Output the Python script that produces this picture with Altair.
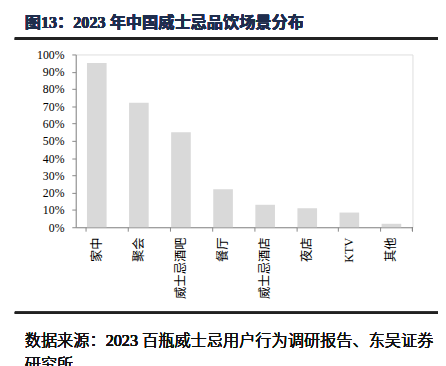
import altair as alt
import pandas as pd

categories = ["家中", "聚会", "威士忌酒吧", "餐厅", "威士忌酒店", "夜店", "KTV", "其他"]
values = [0.95, 0.72, 0.55, 0.22, 0.13, 0.11, 0.085, 0.02]
y_ticks = [i / 10 for i in range(11)]
title_text = "图13：2023 年中国威士忌品饮场景分布"
source_line1 = "数据来源：2023 百瓶威士忌用户行为调研报告、东吴证券"
source_line2 = "研究所"

df = pd.DataFrame({"cat": categories, "val": values})

W, H = 343, 176
serif = "Liberation Serif, Noto Sans CJK SC"

bars = alt.Chart(df).mark_bar(color="#d9d9d9", size=20).encode(
    x=alt.X("cat:N", sort=categories, title=None,
            scale=alt.Scale(paddingInner=0.5, paddingOuter=0.25),
            axis=alt.Axis(labelAngle=-90, bandPosition=0, labelFont=serif,
                          labelFontSize=12.5, labelFontWeight="normal", labelColor="#000000",
                          domainColor="#888888", tickColor="#888888", tickSize=4,
                          labelPadding=6, grid=False)),
    y=alt.Y("val:Q", title=None,
            scale=alt.Scale(domain=[0, 1]),
            axis=alt.Axis(format=".0%", values=y_ticks, labelFont=serif, labelFontSize=12,
                          labelColor="#000000", domainColor="#888888", tickColor="#888888",
                          tickSize=4, labelPadding=8, grid=False)),
)

end_tick = alt.Chart(df).mark_rule(color="#888888").encode(
    x=alt.value(W), y=alt.value(H), y2=alt.value(H + 4)
)

title = alt.Chart(df).mark_text(
    text=title_text, align="left", baseline="middle", font=serif,
    fontSize=16.5, fontWeight="bold", color="#1f2d4d", clip=False
).encode(x=alt.value(-52), y=alt.value(-32))

top_line = alt.Chart(df).mark_rule(color="#222222", strokeWidth=2.5, clip=False).encode(
    x=alt.value(-62), x2=alt.value(369), y=alt.value(-16)
)

bottom_line = alt.Chart(df).mark_rule(color="#222222", strokeWidth=2, clip=False).encode(
    x=alt.value(-62), x2=alt.value(369), y=alt.value(263)
)

src1 = alt.Chart(df).mark_text(
    text=source_line1, align="left", baseline="middle", font=serif,
    fontSize=16.5, fontWeight=300, color="#111111"
).encode(x=alt.value(-52), y=alt.value(292))

src2 = alt.Chart(df).mark_text(
    text=source_line2, align="left", baseline="middle", font=serif,
    fontSize=16.5, fontWeight=300, color="#111111"
).encode(x=alt.value(-52), y=alt.value(316))

chart = alt.layer(bars, end_tick, title, top_line, bottom_line, src1, src2).properties(
    width=W, height=H,
    autosize=alt.AutoSizeParams(type="none"),
    padding={"left": 69, "top": 44, "right": 26, "bottom": 138},
).configure_view(stroke=None).configure(background="#ffffff")

chart.save("out.html", embed_options={"renderer": "svg", "actions": False})
